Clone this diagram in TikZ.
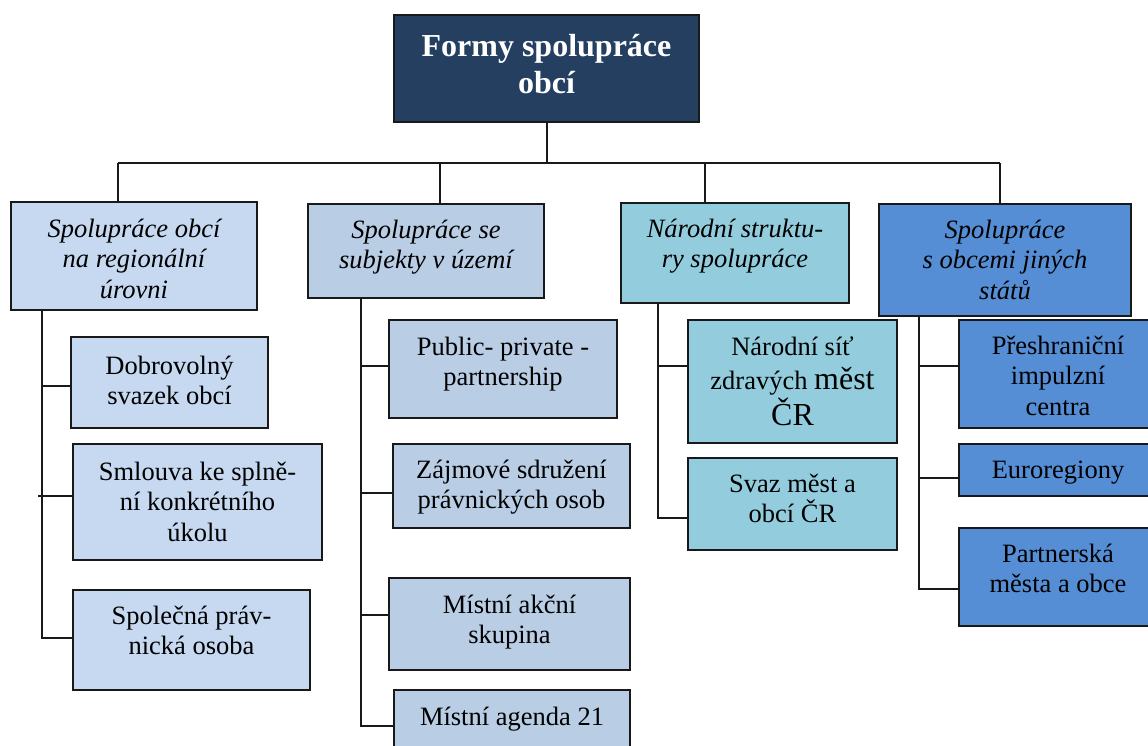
\documentclass[tikz,border=0pt]{standalone}
\usepackage{fontspec}
\setmainfont{Liberation Serif}
\definecolor{navy}{HTML}{243F60}
\definecolor{ca}{HTML}{C6D9F1}
\definecolor{cb}{HTML}{B9CDE5}
\definecolor{cc}{HTML}{93CDDD}
\definecolor{cd}{HTML}{558ED5}
\newcommand{\bodyfs}{\fontsize{26.5}{30.5}\selectfont}
\newcommand{\bigfs}{\fontsize{32}{37}\selectfont}
\newcommand{\st}{\rule{0pt}{25pt}}
\begin{document}
\begin{tikzpicture}[x=1pt,y=-1pt,
  boxnode/.style={draw=black!90, line width=2pt, anchor=north west, inner sep=0pt, outer sep=0pt},
  lbl/.style={anchor=north, inner sep=0pt, align=center, font=\bodyfs},
  hlbl/.style={anchor=north, inner sep=0pt, align=center, font=\bodyfs\itshape},
  conn/.style={line width=2pt, draw=black!90}]
\useasboundingbox[fill=white] (0,0) rectangle (1148,746);

% boxes
\node[boxnode, fill=navy, minimum width=305pt, minimum height=107pt] (T) at (394,15) {};
\node[boxnode, fill=ca, minimum width=246pt, minimum height=108pt] (H1) at (11,202) {};
\node[boxnode, fill=cb, minimum width=236pt, minimum height=94pt] (H2) at (308,204) {};
\node[boxnode, fill=cc, minimum width=228pt, minimum height=100pt] (H3) at (621,203) {};
\node[boxnode, fill=cd, minimum width=252pt, minimum height=112pt] (H4) at (879,204) {};

\node[boxnode, fill=ca, minimum width=197pt, minimum height=91pt] (C11) at (71,337) {};
\node[boxnode, fill=ca, minimum width=249pt, minimum height=116pt] (C12) at (73,444) {};
\node[boxnode, fill=ca, minimum width=237pt, minimum height=100pt] (C13) at (73,590) {};

\node[boxnode, fill=cb, minimum width=228pt, minimum height=98pt] (C21) at (389,320) {};
\node[boxnode, fill=cb, minimum width=237pt, minimum height=84pt] (C22) at (393,444) {};
\node[boxnode, fill=cb, minimum width=241pt, minimum height=92pt] (C23) at (389,578) {};
\node[boxnode, fill=cb, minimum width=236pt, minimum height=70pt] (C24) at (394,690) {};

\node[boxnode, fill=cc, minimum width=209pt, minimum height=123pt] (C31) at (688,320) {};
\node[boxnode, fill=cc, minimum width=209pt, minimum height=92pt] (C32) at (688,458) {};

\node[boxnode, fill=cd, minimum width=198pt, minimum height=108pt] (C41) at (959,320) {};
\node[boxnode, fill=cd, minimum width=198pt, minimum height=52pt] (C42) at (959,444) {};
\node[boxnode, fill=cd, minimum width=198pt, minimum height=98pt] (C43) at (959,528) {};

% texts
\node[anchor=north, inner sep=0pt, align=center, text=white, font=\bfseries\fontsize{32}{37}\selectfont] (tT) at (546.5,26) {\rule{0pt}{30pt}Formy spolupráce\\obcí};
\node[hlbl] (tH1) at (134,212) {\st Spolupráce obcí\\na regionální\\úrovni};
\node[hlbl] (tH2) at (426,213) {\st Spolupráce se\\subjekty v území};
\node[hlbl] (tH3) at (735,212) {\st Národní struktu-\\ry spolupráce};
\node[hlbl] (tH4) at (1005,213) {\st Spolupráce\\s obcemi jiných\\států};

\node[lbl] (tC11) at (169.5,349) {\st Dobrovolný\\svazek obcí};
\node[lbl] (tC12) at (197.5,455) {\st Smlouva ke splně-\\ní konkrétního\\úkolu};
\node[lbl] (tC13) at (191.5,599) {\st Společná práv-\\nická osoba};

\node[lbl] (tC21) at (503,330) {\st Public- private -\\partnership};
\node[lbl] (tC22) at (511.5,453) {\st Zájmové sdružení\\právnických osob};
\node[lbl] (tC23) at (509.5,588) {\st Místní akční\\skupina};
\node[lbl] (tC24) at (512,700) {\st Místní agenda 21};

\node[lbl] (tC31) at (792.5,330) {\st Národní síť\\[4pt]zdravých {\bigfs měst}\\[2pt]{\bigfs ČR}};
\node[lbl] (tC32) at (792.5,467) {\st Svaz měst a\\obcí ČR};

\node[lbl] (tC41) at (1058,329) {\st Přeshraniční\\impulzní\\centra};
\node[lbl] (tC42) at (1058,453) {\st Euroregiony};
\node[lbl] (tC43) at (1058,537) {\st Partnerská\\města a obce};

% bus
\coordinate (b1) at (118,163);
\coordinate (b2) at (440,163);
\coordinate (b3) at (705,163);
\coordinate (b4) at (1000,163);
\draw[conn] (T.south) -- (T.south |- b1);
\draw[conn] (b1) -- (b4);
\draw[conn] (b1) -- (b1 |- H1.north);
\draw[conn] (b2) -- (b2 |- H2.north);
\draw[conn] (b3) -- (b3 |- H3.north);
\draw[conn] (b4) -- (b4 |- H4.north);

% column 1
\coordinate (j11) at (42,386);
\coordinate (j12) at (38,496);
\coordinate (j13) at (42,638);
\draw[conn] (j11 |- H1.south) -- (j13) -- (j13 -| C13.west);
\draw[conn] (j11) -- (j11 -| C11.west);
\draw[conn] (j12) -- (j12 -| C12.west);

% column 2
\coordinate (j21) at (361,366);
\coordinate (j22) at (361,493);
\coordinate (j23) at (361,615);
\coordinate (j24) at (361,726);
\draw[conn] (j21 |- H2.south) -- (j24) -- (j24 -| C24.west);
\draw[conn] (j21) -- (j21 -| C21.west);
\draw[conn] (j22) -- (j22 -| C22.west);
\draw[conn] (j23) -- (j23 -| C23.west);

% column 3
\coordinate (j31) at (658,366);
\coordinate (j32) at (658,518);
\draw[conn] (j31 |- H3.south) -- (j32) -- (j32 -| C32.west);
\draw[conn] (j31) -- (j31 -| C31.west);

% column 4
\coordinate (j41) at (919,366);
\coordinate (j42) at (919,478);
\coordinate (j43) at (919,589);
\draw[conn] (j41 |- H4.south) -- (j43) -- (j43 -| C43.west);
\draw[conn] (j41) -- (j41 -| C41.west);
\draw[conn] (j42) -- (j42 -| C42.west);
\end{tikzpicture}
\end{document}
